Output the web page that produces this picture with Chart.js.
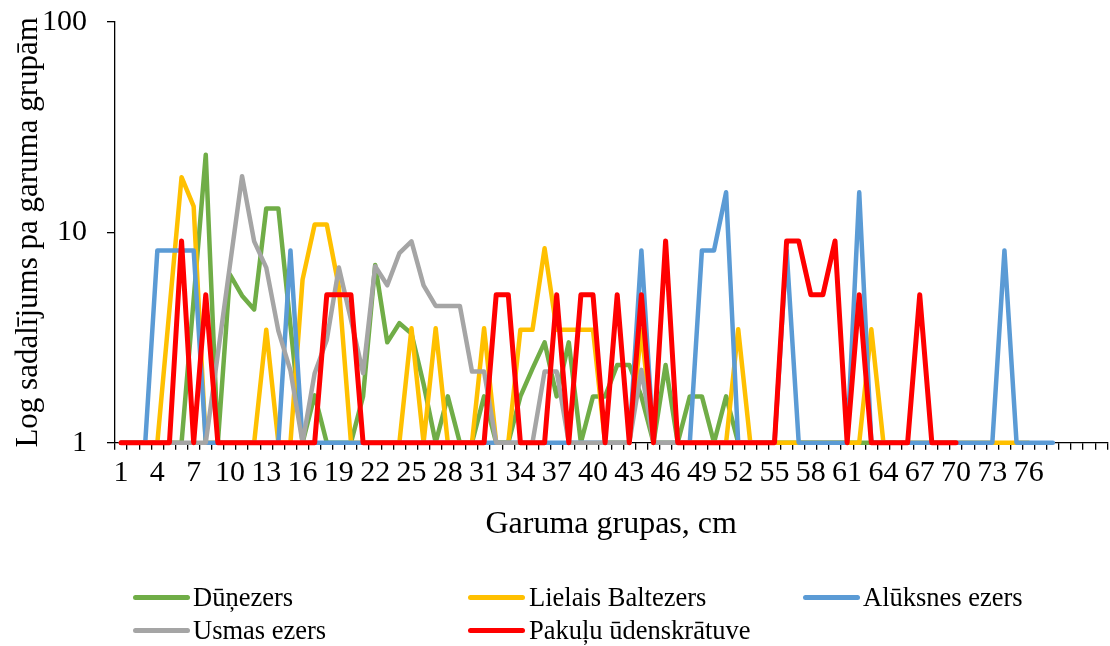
<!DOCTYPE html>
<html><head><meta charset="utf-8">
<script src="https://cdn.jsdelivr.net/npm/chart.js@4"></script>
<style>
html,body{margin:0;padding:0;background:#fff;}
#wrap{position:relative;width:1110px;height:646px;overflow:hidden;}
#c{position:absolute;left:0;top:0;}
.lg{position:absolute;font-family:"Liberation Serif","Times New Roman",serif;font-size:26.5px;line-height:26.5px;color:#000;white-space:nowrap;}
.sw{position:absolute;height:5px;border-radius:2.5px;width:57px;}
</style></head><body>
<div id="wrap"><canvas id="c" width="1110" height="646"></canvas><div id="legend"></div></div>
<script>
const categories = ["1","2","3","4","5","6","7","8","9","10","11","12","13","14","15","16","17","18","19","20",
"21","22","23","24","25","26","27","28","29","30","31","32","33","34","35","36","37","38","39","40",
"41","42","43","44","45","46","47","48","49","50","51","52","53","54","55","56","57","58","59","60",
"61","62","63","64","65","66","67","68","69","70","71","72","73","74","75","76","77","78","","","",""];
const xTickLabels = ["1","4","7","10","13","16","19","22","25","28","31","34","37","40","43","46","49","52","55","58","61","64","67","70","73","76"];
const yTicks = [1, 10, 100];
const seriesNames = ["Dūņezers","Lielais Baltezers","Alūksnes ezers","Usmas ezers","Pakuļu ūdenskrātuve"];
const dunezers = [1,1,1,1,1,1,4.8,23.4,1,6.3, 5.0,4.3,13.0,13.0,3.6,1,1.68,1,1,1, 1.66,7.0,3.0,3.7,3.3,1.9,1,1.66,1,1, 1.66,1,1,1.66,2.25,3.0,1.66,3.0,1,1.66, 1.66,2.34,2.34,1.66,1,2.34,1,1.66,1.66,1, 1.66,1,1,1,1,1,1,1,1,1, 1,1,1,1,1];
const lielaisBaltezers = [1,1,1,1,4.3,18.3,13.3,1,1,1, 1,1,3.44,1,1,5.96,10.9,10.9,5.5,1, 1,1,1,1,3.5,1,3.5,1,1,1, 3.5,1,1,3.44,3.44,8.4,3.44,3.44,3.44,3.44, 1,1,1,3.44,1,1,1,1,1,1, 1,3.46,1,1,1,1,1,1,1,1, 1,1,3.46,1,1,1,1,1,1,1, 1,1,1,1,1,1];
const aluksnesEzers = [1,1,1,8.2,8.2,8.2,8.2,1,1,1, 1,1,1,1,8.2,1,1,1,1,1, 1,1,1,1,1,1,1,1,1,1, 1,1,1,1,1,1,1,1,1,1, 1,1,1,8.2,1,1,1,1,8.2,8.2, 15.5,1,1,1,1,8.2,1,1,1,1, 1,15.5,1,1,1,1,1,1,1,1, 1,1,1,8.2,1,1,1,1];
const usmasEzers = [1,1,1,1,1,1,1,1,2.64,7.0, 18.5,9.06,6.8,3.4,2.2,1,2.14,3.08,6.8,3.84, 2.14,6.9,5.6,7.96,9.06,5.6,4.47,4.47,4.47,2.18, 2.18,1,1,1,1,2.18,2.18,1,1,1, 1,1,1,2.22,1,1,1,1,1,1, 1,1,1,1,1];
const pakuluUdenskratuve = [1,1,1,1,1,9.1,1,5.05,1,1, 1,1,1,1,1,1,1,5.05,5.05,5.05, 1,1,1,1,1,1,1,1,1,1, 1,5.05,5.05,1,1,1,5.05,1,5.05,5.05, 1,5.05,1,5.05,1,9.1,1,1,1,1, 1,1,1,1,1,9.1,9.1,5.05,5.05,9.1, 1,5.05,1,1,1,1,5.05,1,1,1];
const colors = ["#70AD47","#FFC000","#5B9BD5","#A5A5A5","#FF0000"];
const seriesData = [dunezers, lielaisBaltezers, aluksnesEzers, usmasEzers, pakuluUdenskratuve];

const FONT = "'Liberation Serif','Times New Roman',serif";
const datasets = seriesData.map((d, i) => ({
  label: seriesNames[i],
  data: d,
  borderColor: colors[i],
  backgroundColor: colors[i],
  borderWidth: i === 4 ? 5 : 4.5,
  pointRadius: 0,
  tension: 0,
  fill: false,
  clip: false,
  borderJoinStyle: 'round',
  borderCapStyle: 'round',
  order: 4 - i
}));

new Chart(document.getElementById('c'), {
  type: 'line',
  data: { labels: categories, datasets: datasets },
  options: {
    responsive: false,
    animation: false,
    layout: { padding: { top: 22, right: 2.7, bottom: 101.8, left: 0 } },
    plugins: { legend: { display: false }, tooltip: { enabled: false } },
    scales: {
      x: {
        type: 'category',
        offset: true,
        grid: { offset: true, drawOnChartArea: false, drawTicks: true, tickLength: 7, color: '#000', lineWidth: 1.3 },
        border: { display: true, color: '#000', width: 1.3 },
        ticks: {
          autoSkip: false, maxRotation: 0, minRotation: 0, padding: 5, color: '#000',
          font: { family: FONT, size: 30 },
          callback: (v, i) => xTickLabels.includes(categories[i]) ? categories[i] : ''
        },
        title: { display: true, text: 'Garuma grupas, cm', color: '#000', font: { family: FONT, size: 32 }, padding: 0 },
        afterFit: s => { s.height = 101.5; s.paddingLeft = 0; s.paddingRight = 0; }
      },
      y: {
        type: 'logarithmic',
        min: 1, max: 100,
        afterBuildTicks: s => { s.ticks = yTicks.map(v => ({ value: v })); },
        grid: { drawOnChartArea: false, drawTicks: true, tickLength: 8, color: '#000', lineWidth: 1.3 },
        border: { display: true, color: '#000', width: 1.3 },
        ticks: { padding: 20, color: '#000', font: { family: FONT, size: 30 }, callback: v => String(v) },
        title: { display: true, text: 'Log sadalījums pa garuma grupām', color: '#000', font: { family: FONT, size: 31 }, padding: { top: 10, bottom: 0 } },
        afterFit: s => { s.width = 115; s.paddingTop = 0; s.paddingBottom = 0; }
      }
    }
  }
});

// legend (HTML)
const legendPos = [
  { sx: 133, tx: 193, row: 0 },
  { sx: 468, tx: 529, row: 0 },
  { sx: 803, tx: 863, row: 0 },
  { sx: 133, tx: 193, row: 1 },
  { sx: 468, tx: 529, row: 1 }
];
const rowLineY = [597, 630];
const rowTextTop = [583.8, 616.8];
const lg = document.getElementById('legend');
seriesNames.forEach((name, i) => {
  const p = legendPos[i];
  const sw = document.createElement('div');
  sw.className = 'sw';
  sw.style.left = p.sx + 'px';
  sw.style.top = (rowLineY[p.row] - 2.5) + 'px';
  sw.style.background = colors[i];
  lg.appendChild(sw);
  const t = document.createElement('div');
  t.className = 'lg';
  t.style.left = p.tx + 'px';
  t.style.top = rowTextTop[p.row] + 'px';
  t.textContent = name;
  lg.appendChild(t);
});
</script>
</body></html>
